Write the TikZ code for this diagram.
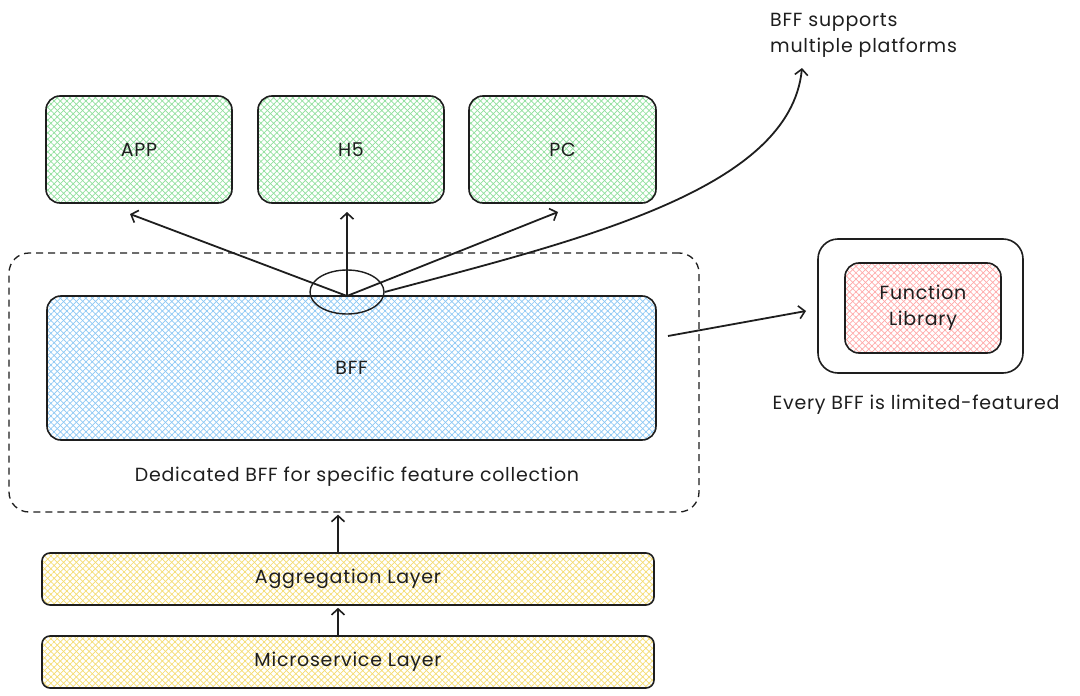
\documentclass[tikz,border=0pt]{standalone}
\usepackage{fontspec}
\setmainfont{Poppins}[LetterSpace=4]
\usetikzlibrary{arrows.meta,patterns.meta,shapes.geometric,calc}
\definecolor{ink}{HTML}{1E1E1E}
\definecolor{hgreen}{HTML}{8FE09C}
\definecolor{hblue}{HTML}{8CC8F5}
\definecolor{hred}{HTML}{FFA8A8}
\definecolor{hyellow}{HTML}{F5DC70}
\tikzset{
  hatch/.style={
    preaction={pattern={Lines[angle=45,distance=4.5pt,line width=0.7pt]},pattern color=#1},
    preaction={pattern={Lines[angle=-45,distance=4.5pt,line width=0.7pt]},pattern color=#1}},
  box/.style={draw=ink,line width=1.6pt,rounded corners=14pt,rectangle,inner sep=0pt,
    font=\fontsize{19}{26}\selectfont,text=ink,align=center},
  lbl/.style={font=\fontsize{19}{26}\selectfont,text=ink,align=center,inner sep=0pt},
  arr/.style={draw=ink,line width=1.8pt,-{Straight Barb[length=6pt,width=13pt,line width=1.6pt]}},
}
\begin{document}
\begin{tikzpicture}[x=1pt,y=-1pt]
\useasboundingbox (0,0) rectangle (1080,696);
\fill[white] (0,0) rectangle (1080,696);
% dashed container
\node[draw=ink,line width=1.3pt,dashed,dash pattern=on 7pt off 5pt,rounded corners=20pt,
  minimum width=690pt,minimum height=259pt,inner sep=0pt] (ded) at (354,382.5) {};
% platform boxes
\node[box,hatch=hgreen,minimum width=186pt,minimum height=107pt] (app) at (139,149.5) {APP};
\node[box,hatch=hgreen,minimum width=186pt,minimum height=107pt] (h5) at (351,149.5) {H5};
\node[box,hatch=hgreen,minimum width=187pt,minimum height=107pt] (pc) at (562.5,149.5) {PC};
% BFF
\node[box,hatch=hblue,minimum width=609pt,minimum height=144pt] (bff) at (351.5,368) {BFF};
\node[lbl] (dedlbl) at (357,477) {Dedicated BFF for specific feature collection};
% hub ellipse
\node[ellipse,draw=ink,line width=1.4pt,minimum width=74pt,minimum height=44pt,inner sep=0pt] (hub) at (347,292) {};
\coordinate (o) at (347,296);
\coordinate (apptip) at (130,214);
\coordinate (h5tip) at (347,212);
\coordinate (pctip) at (558,212);
\coordinate (libtip) at (806,311);
\coordinate (bffout) at (668,336);
\coordinate (notetip) at (802,68);
% library
\node[draw=ink,line width=1.6pt,rounded corners=20pt,minimum width=205pt,minimum height=134pt,inner sep=0pt] (libout) at (920.5,306) {};
\node[box,hatch=hred,minimum width=156pt,minimum height=90pt] (lib) at (923,308) {Function\\Library};
\node[lbl] (every) at (916,405) {Every BFF is limited-featured};
% note
\node[lbl,align=left,anchor=north west] (note) at (770,13) {BFF supports\\multiple platforms};
% layers
\node[box,hatch=hyellow,rounded corners=8pt,minimum width=612pt,minimum height=52pt] (agg) at (348,579) {Aggregation Layer};
\node[box,hatch=hyellow,rounded corners=8pt,minimum width=612pt,minimum height=52pt] (micro) at (348,662) {Microservice Layer};
% arrows
\draw[arr] (o) -- (apptip);
\draw[arr] (o) -- (h5tip);
\draw[arr] (o) -- (pctip);
\draw[arr] (hub.east) .. controls (580,240) and (790,190) .. (notetip);
\draw[arr] (bffout) -- (libtip);
\draw[arr] ($(agg.north)+(-10,0)$) -- ($(ded.south)+(-16,2)$);
\draw[arr] ($(micro.north)+(-10,0)$) -- ($(agg.south)+(-10,2)$);
\end{tikzpicture}
\end{document}
